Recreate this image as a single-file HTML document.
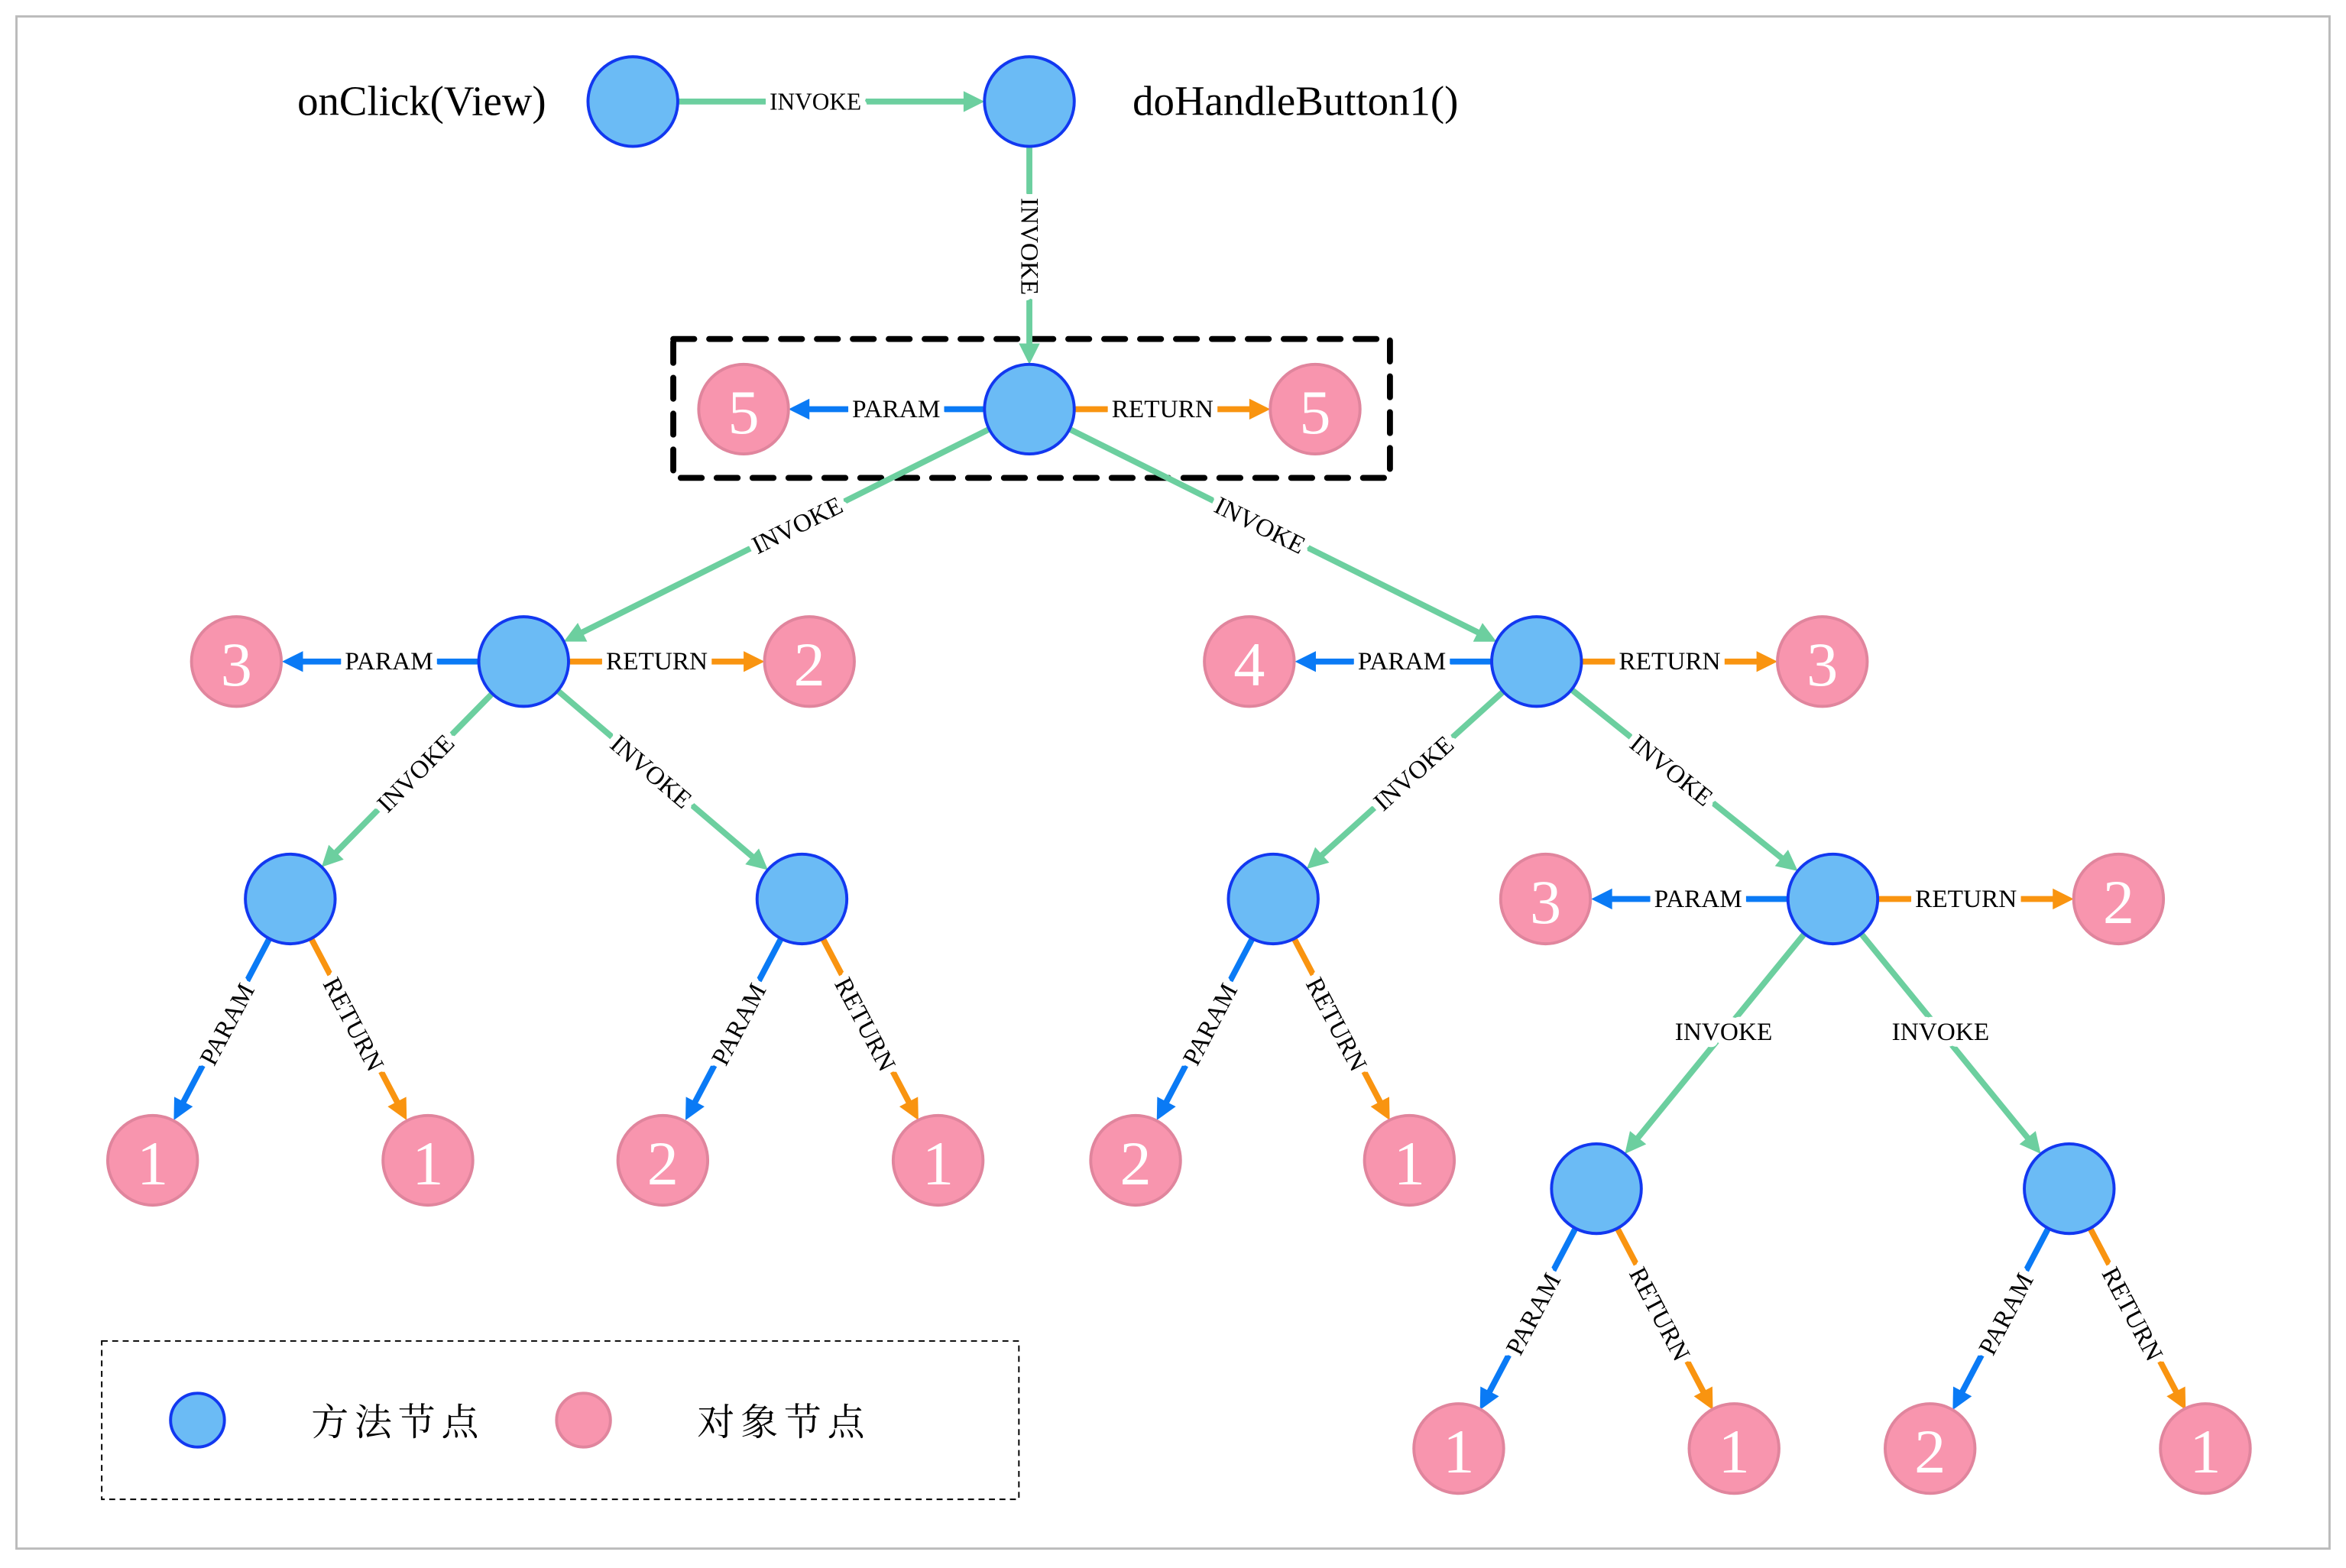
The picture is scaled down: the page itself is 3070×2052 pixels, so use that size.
<!DOCTYPE html>
<html><head><meta charset="utf-8"><style>
html,body{margin:0;padding:0;background:#fff;}
svg{display:block;}
text{font-family:"Liberation Serif","Noto Serif CJK SC",serif;}
.lb{font-size:17px;fill:#000;stroke:#fff;stroke-width:9px;paint-order:stroke;stroke-linejoin:round;text-anchor:middle;dominant-baseline:central;}
.g line{stroke:#6ccf9f;} .g polygon{fill:#6ccf9f;}
.b line{stroke:#0a7af5;} .b polygon{fill:#0a7af5;}
.o line{stroke:#f99410;} .o polygon{fill:#f99410;}
line{stroke-width:4;}
.m{fill:#6bbbf5;stroke:#1238f0;stroke-width:2;}
.p{fill:#f895ae;stroke:#e0859d;stroke-width:2;}
.n{font-size:42px;fill:#fff;text-anchor:middle;dominant-baseline:central;}
</style></head><body>
<svg width="3070" height="2052" viewBox="0 0 1568 1050" preserveAspectRatio="none" xmlns="http://www.w3.org/2000/svg">
<rect x="11" y="11" width="1546" height="1026" fill="none" stroke="#bbb" stroke-width="1.5"/>
<rect x="450" y="227" width="479" height="93" fill="none" stroke="#000" stroke-width="4" stroke-dasharray="14,10" stroke-linecap="round"/>

<!-- edges -->
<g class="g" transform="translate(555.5,68)"><line x1="-102.5" y1="0" x2="91" y2="0"/><polygon points="102.5,0 88.5,-7 88.5,7"/></g>
<g class="g" transform="translate(688,171) rotate(90)"><line x1="-73" y1="0" x2="61" y2="0"/><polygon points="73,0 59,-7 59,7"/></g>
<g class="b" transform="translate(592.5,274) rotate(180)"><line x1="-65.5" y1="0" x2="54" y2="0"/><polygon points="65.5,0 51.5,-7 51.5,7"/></g>
<g class="o" transform="translate(783.5,274)"><line x1="-65.5" y1="0" x2="54" y2="0"/><polygon points="65.5,0 51.5,-7 51.5,7"/></g>
<g class="g" transform="translate(519,358.5) rotate(153.43)"><line x1="-159" y1="0" x2="147" y2="0"/><polygon points="159,0 145,-7 145,7"/></g>
<g class="g" transform="translate(857.5,358.5) rotate(26.5)"><line x1="-159.5" y1="0" x2="148" y2="0"/><polygon points="159.5,0 145.5,-7 145.5,7"/></g>
<g class="b" transform="translate(254,443) rotate(180)"><line x1="-65.5" y1="0" x2="54" y2="0"/><polygon points="65.5,0 51.5,-7 51.5,7"/></g>
<g class="o" transform="translate(445.5,443)"><line x1="-65.5" y1="0" x2="54" y2="0"/><polygon points="65.5,0 51.5,-7 51.5,7"/></g>
<g class="b" transform="translate(931,443) rotate(180)"><line x1="-65.5" y1="0" x2="54" y2="0"/><polygon points="65.5,0 51.5,-7 51.5,7"/></g>
<g class="o" transform="translate(1122.5,443)"><line x1="-65.5" y1="0" x2="54" y2="0"/><polygon points="65.5,0 51.5,-7 51.5,7"/></g>
<g class="g" transform="translate(272,522.5) rotate(134.46)"><line x1="-81.5" y1="0" x2="70" y2="0"/><polygon points="81.5,0 67.5,-7 67.5,7"/></g>
<g class="g" transform="translate(443,522.5) rotate(40.52)"><line x1="-92.5" y1="0" x2="81" y2="0"/><polygon points="92.5,0 78.5,-7 78.5,7"/></g>
<g class="g" transform="translate(939,522.5) rotate(137.9)"><line x1="-88.5" y1="0" x2="77" y2="0"/><polygon points="88.5,0 74.5,-7 74.5,7"/></g>
<g class="g" transform="translate(1126,522.5) rotate(38.77)"><line x1="-97" y1="0" x2="85.5" y2="0"/><polygon points="97,0 83,-7 83,7"/></g>
<g class="b" transform="translate(1129,602) rotate(180)"><line x1="-65.5" y1="0" x2="54" y2="0"/><polygon points="65.5,0 51.5,-7 51.5,7"/></g>
<g class="o" transform="translate(1320.5,602)"><line x1="-65.5" y1="0" x2="54" y2="0"/><polygon points="65.5,0 51.5,-7 51.5,7"/></g>
<g class="g" transform="translate(1146,699) rotate(129.16)"><line x1="-95" y1="0" x2="83.5" y2="0"/><polygon points="95,0 81,-7 81,7"/></g>
<g class="g" transform="translate(1304,699) rotate(50.84)"><line x1="-95" y1="0" x2="83.5" y2="0"/><polygon points="95,0 81,-7 81,7"/></g>

<g class="b" transform="translate(148,689.5) rotate(117.7)"><line x1="-68.5" y1="0" x2="57" y2="0"/><polygon points="68.5,0 54.5,-7 54.5,7"/></g>
<g class="o" transform="translate(240,689.5) rotate(62.3)"><line x1="-68.5" y1="0" x2="57" y2="0"/><polygon points="68.5,0 54.5,-7 54.5,7"/></g>
<g class="b" transform="translate(490,689.5) rotate(117.7)"><line x1="-68.5" y1="0" x2="57" y2="0"/><polygon points="68.5,0 54.5,-7 54.5,7"/></g>
<g class="o" transform="translate(582,689.5) rotate(62.3)"><line x1="-68.5" y1="0" x2="57" y2="0"/><polygon points="68.5,0 54.5,-7 54.5,7"/></g>
<g class="b" transform="translate(805,689.5) rotate(117.7)"><line x1="-68.5" y1="0" x2="57" y2="0"/><polygon points="68.5,0 54.5,-7 54.5,7"/></g>
<g class="o" transform="translate(897,689.5) rotate(62.3)"><line x1="-68.5" y1="0" x2="57" y2="0"/><polygon points="68.5,0 54.5,-7 54.5,7"/></g>
<g class="b" transform="translate(1021,883.5) rotate(117.7)"><line x1="-68.5" y1="0" x2="57" y2="0"/><polygon points="68.5,0 54.5,-7 54.5,7"/></g>
<g class="o" transform="translate(1113,883.5) rotate(62.3)"><line x1="-68.5" y1="0" x2="57" y2="0"/><polygon points="68.5,0 54.5,-7 54.5,7"/></g>
<g class="b" transform="translate(1337,883.5) rotate(117.7)"><line x1="-68.5" y1="0" x2="57" y2="0"/><polygon points="68.5,0 54.5,-7 54.5,7"/></g>
<g class="o" transform="translate(1429,883.5) rotate(62.3)"><line x1="-68.5" y1="0" x2="57" y2="0"/><polygon points="68.5,0 54.5,-7 54.5,7"/></g>

<!-- labels -->
<text class="lb" style="font-size:16px" transform="translate(545,68)">INVOKE</text>
<text class="lb" transform="translate(688,165) rotate(90)">INVOKE</text>
<text class="lb" transform="translate(599,274)">PARAM</text>
<text class="lb" transform="translate(777,274)">RETURN</text>
<text class="lb" transform="translate(533,352) rotate(-26.57)">INVOKE</text>
<text class="lb" transform="translate(842,352) rotate(26.5)">INVOKE</text>
<text class="lb" transform="translate(260,443)">PARAM</text>
<text class="lb" transform="translate(439,443)">RETURN</text>
<text class="lb" transform="translate(937,443)">PARAM</text>
<text class="lb" transform="translate(1116,443)">RETURN</text>
<text class="lb" transform="translate(278,518) rotate(-45.54)">INVOKE</text>
<text class="lb" transform="translate(435,517) rotate(40.52)">INVOKE</text>
<text class="lb" transform="translate(945,518) rotate(-42.1)">INVOKE</text>
<text class="lb" transform="translate(1117,516) rotate(38.77)">INVOKE</text>
<text class="lb" transform="translate(1135,602)">PARAM</text>
<text class="lb" transform="translate(1314,602)">RETURN</text>
<text class="lb" transform="translate(1152,691)">INVOKE</text>
<text class="lb" transform="translate(1297,691)">INVOKE</text>

<text class="lb" transform="translate(152,686) rotate(-62.3)">PARAM</text>
<text class="lb" transform="translate(236,686) rotate(62.3)">RETURN</text>
<text class="lb" transform="translate(494,686) rotate(-62.3)">PARAM</text>
<text class="lb" transform="translate(578,686) rotate(62.3)">RETURN</text>
<text class="lb" transform="translate(809,686) rotate(-62.3)">PARAM</text>
<text class="lb" transform="translate(893,686) rotate(62.3)">RETURN</text>
<text class="lb" transform="translate(1025,880) rotate(-62.3)">PARAM</text>
<text class="lb" transform="translate(1109,880) rotate(62.3)">RETURN</text>
<text class="lb" transform="translate(1341,880) rotate(-62.3)">PARAM</text>
<text class="lb" transform="translate(1425,880) rotate(62.3)">RETURN</text>

<!-- method nodes -->
<circle class="m" cx="423" cy="68" r="30"/>
<circle class="m" cx="688" cy="68" r="30"/>
<circle class="m" cx="688" cy="274" r="30"/>
<circle class="m" cx="350" cy="443" r="30"/>
<circle class="m" cx="1027" cy="443" r="30"/>
<circle class="m" cx="194" cy="602" r="30"/>
<circle class="m" cx="536" cy="602" r="30"/>
<circle class="m" cx="851" cy="602" r="30"/>
<circle class="m" cx="1225" cy="602" r="30"/>
<circle class="m" cx="1067" cy="796" r="30"/>
<circle class="m" cx="1383" cy="796" r="30"/>

<text style="font-size:28px" x="365" y="77" text-anchor="end">onClick(View)</text>
<text style="font-size:28px" x="757" y="77">doHandleButton1()</text>

<!-- object nodes -->
<g>
<circle class="p" cx="497" cy="274" r="30"/><text class="n" x="497" y="276">5</text>
<circle class="p" cx="879" cy="274" r="30"/><text class="n" x="879" y="276">5</text>
<circle class="p" cx="158" cy="443" r="30"/><text class="n" x="158" y="445">3</text>
<circle class="p" cx="541" cy="443" r="30"/><text class="n" x="541" y="445">2</text>
<circle class="p" cx="835" cy="443" r="30"/><text class="n" x="835" y="445">4</text>
<circle class="p" cx="1218" cy="443" r="30"/><text class="n" x="1218" y="445">3</text>
<circle class="p" cx="1033" cy="602" r="30"/><text class="n" x="1033" y="604">3</text>
<circle class="p" cx="1416" cy="602" r="30"/><text class="n" x="1416" y="604">2</text>
<circle class="p" cx="102" cy="777" r="30"/><text class="n" x="102" y="779">1</text>
<circle class="p" cx="286" cy="777" r="30"/><text class="n" x="286" y="779">1</text>
<circle class="p" cx="443" cy="777" r="30"/><text class="n" x="443" y="779">2</text>
<circle class="p" cx="627" cy="777" r="30"/><text class="n" x="627" y="779">1</text>
<circle class="p" cx="759" cy="777" r="30"/><text class="n" x="759" y="779">2</text>
<circle class="p" cx="942" cy="777" r="30"/><text class="n" x="942" y="779">1</text>
<circle class="p" cx="975" cy="970" r="30"/><text class="n" x="975" y="972">1</text>
<circle class="p" cx="1159" cy="970" r="30"/><text class="n" x="1159" y="972">1</text>
<circle class="p" cx="1290" cy="970" r="30"/><text class="n" x="1290" y="972">2</text>
<circle class="p" cx="1474" cy="970" r="30"/><text class="n" x="1474" y="972">1</text>
</g>

<!-- legend -->
<rect x="68" y="898" width="613" height="106" fill="none" stroke="#000" stroke-width="1" stroke-dasharray="4,3"/>
<circle class="m" cx="132" cy="951" r="18"/>
<text x="208" y="961" style="font-size:25px;letter-spacing:4px">方法节点</text>
<circle class="p" cx="390" cy="951" r="18"/>
<text x="466" y="961" style="font-size:25px;letter-spacing:4px">对象节点</text>
</svg>
</body></html>
